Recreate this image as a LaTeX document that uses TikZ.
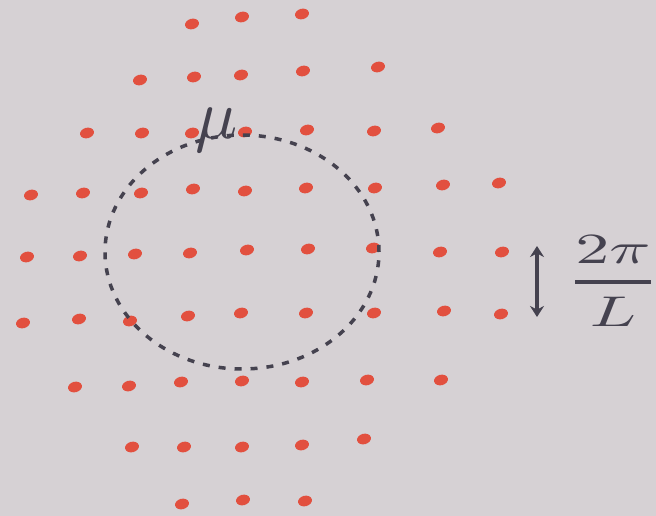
\documentclass[tikz,border=0pt]{standalone}
\usepackage{graphicx}
\usepackage{amsmath}
\usetikzlibrary{shapes.geometric, arrows.meta}

\definecolor{paper}{HTML}{D6D1D4}
\definecolor{dotred}{HTML}{E2503F}
\definecolor{ink}{HTML}{45424F}

\begin{document}
\begin{tikzpicture}[
    x=1pt, y=-1pt,
    site/.style={ellipse, fill=dotred, minimum width=14pt, minimum height=10.5pt, inner sep=0pt, rotate=15},
    fermi/.style={ellipse, draw=ink, line width=3.5pt, dash pattern=on 7pt off 9pt, minimum width=274pt, minimum height=234pt, inner sep=0pt},
    spacing/.style={draw=ink, line width=3.5pt, arrows={Stealth[length=11pt,width=14pt]-Stealth[length=11pt,width=14pt]}},
    lbl/.style={text=ink, inner sep=0pt}
]

% --- Hintergrund ---
\fill[paper] (0,0) rectangle (656,516);
\useasboundingbox (0,0) rectangle (656,516);

% --- Gitterpunkte im k-Raum ---
\foreach \x/\y [count=\i] in {
    192/24, 242/17, 302/14,
    140/80, 194/77, 241/75, 303/71, 378/67,
    87/133, 142/133, 192/133, 245/132, 307/130, 374/131, 438/128,
    31/195, 83/193, 141/193, 193/189, 245/191, 306/188, 375/188, 443/185, 499/183,
    27/257, 80/256, 135/254, 190/253, 247/250, 308/249, 373/248, 440/252, 502/252,
    23/323, 79/319, 130/321, 188/316, 241/313, 306/313, 374/313, 444/311, 501/314,
    75/387, 129/386, 181/382, 242/381, 302/382, 367/380, 441/380,
    132/447, 184/447, 242/447, 302/445, 364/439,
    182/504, 243/500, 305/501}
    \node[site] (k\i) at (\x,\y) {};

% --- Fermi-Flaeche ---
\node[fermi] (FS) at (242,252) {};
\node[lbl] (mu) at (217,130) {\scalebox{7}{$\mu$}};

% --- Gitterabstand ---
\coordinate (top) at (537,246);
\coordinate (bot) at (537,317);
\draw[spacing] (top) -- (bot);
\node[lbl] (dk) at (613,281) {\scalebox{6.8}[4.3]{$\genfrac{}{}{1pt}{0}{2\pi}{L}$}};
\end{tikzpicture}
\end{document}
